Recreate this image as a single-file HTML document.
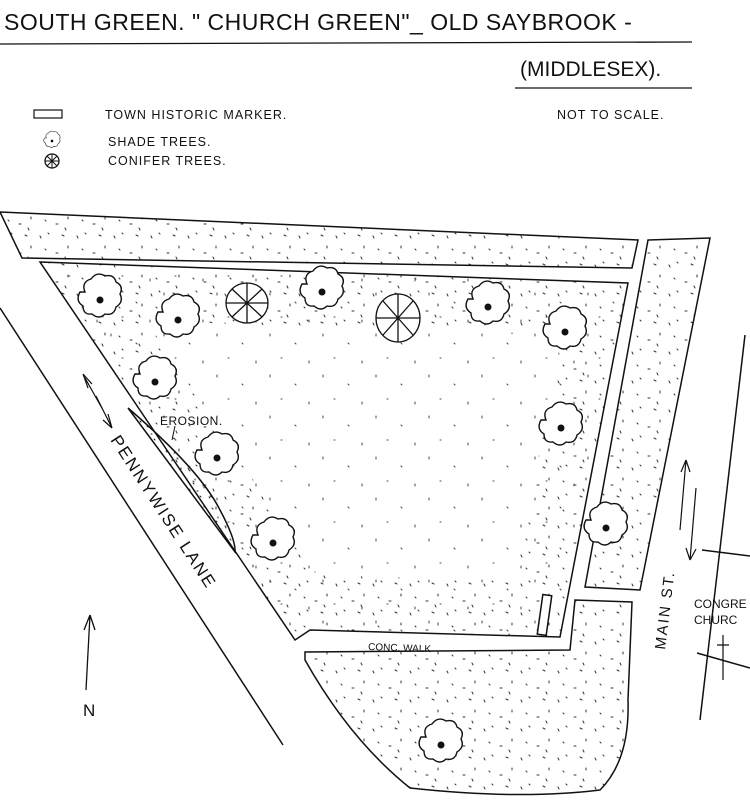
<!DOCTYPE html>
<html><head><meta charset="utf-8"><style>
html,body{margin:0;padding:0;background:#fff;}
svg{display:block}
text{font-family:"Liberation Sans",sans-serif;fill:#111}
</style></head><body>
<svg width="750" height="800" viewBox="0 0 750 800" xmlns="http://www.w3.org/2000/svg">
<defs>
<pattern id="st" width="37" height="29" patternUnits="userSpaceOnUse">
<g stroke="#333" stroke-width="1" stroke-linecap="round">
<path d="M3 4l1 2M25 3l2 1M31 14l0 2M8 17l1 1M19 21l2 0M28 25l1 2M11 1l1 1"/>
</g></pattern>
<pattern id="sp" width="53" height="41" patternUnits="userSpaceOnUse">
<g stroke="#444" stroke-width="1" stroke-linecap="round">
<path d="M5 6l0 2M30 15l1 1M44 33l0 2M16 30l1 0"/>
</g></pattern>
<pattern id="st2" width="23" height="19" patternUnits="userSpaceOnUse">
<g stroke="#222" stroke-width="1" stroke-linecap="round">
<path d="M2 3l1 1M9 8l1 1M16 2l1 1M20 12l0 1M5 14l1 1M13 16l1 0M11 4l0 1"/>
</g></pattern>
<clipPath id="gc"><path d="M40 262L628 283L560 637L310 630L295 640Z"/></clipPath>
<g id="tr"><path d="M-15 -8q-4-10 6-13q6-8 14-3q9-2 11 6q8 4 4 12q4 8-4 13q-2 9-11 7q-6 6-13 0q-9 1-9-8q-8-5-3-14z" fill="#fff" stroke="#111" stroke-width="1.4"/><circle r="3.5" fill="#111"/></g>
</defs>
<!-- title -->
<text x="4" y="30" font-size="23" letter-spacing="0.5">SOUTH GREEN. " CHURCH GREEN"_ OLD SAYBROOK -</text>
<path d="M0 44L692 42" stroke="#111" stroke-width="1.3"/>
<text x="520" y="76" font-size="21">(MIDDLESEX).</text>
<path d="M515 88L692 88" stroke="#111" stroke-width="1.3"/>
<rect x="34" y="110" width="28" height="8" fill="none" stroke="#111" stroke-width="1.2"/>
<text x="105" y="119" font-size="12.5" letter-spacing="1">TOWN HISTORIC MARKER.</text>
<text x="557" y="119" font-size="12.5" letter-spacing="1">NOT TO SCALE.</text>
<g transform="translate(52,141) scale(0.38)"><use href="#tr"/></g>
<text x="108" y="146" font-size="12.5" letter-spacing="1">SHADE TREES.</text>
<g transform="translate(52,161)"><circle r="7" fill="#fff" stroke="#111" stroke-width="1.3"/><path d="M-7 0H7M0-7V7M-5-5L5 5M-5 5L5-5" stroke="#111"/></g>
<text x="108" y="165" font-size="12.5" letter-spacing="1">CONIFER TREES.</text>

<g stroke="#111" stroke-width="1.5" fill="none">
<path d="M0 212L638 240L632 268L22 258Z" fill="url(#st)"/>
<!-- main green: sparse center, denser edges -->
<path d="M40 262L628 283L560 637L310 630L295 640Z" fill="url(#sp)" stroke="none"/>
<path d="M40 262L628 283L560 637L310 630L295 640Z" stroke="url(#st)" stroke-width="110" clip-path="url(#gc)"/>
<path d="M40 262L628 283L560 637L310 630L295 640Z"/>
<path d="M128 408Q200 470 220 510Q236 540 235 552Q200 505 128 408Z" fill="url(#st2)"/>
<path d="M0 308L283 745"/>
<path d="M648 240L710 238L640 590L585 587Z" fill="url(#st)"/>
<path d="M305 660Q350 740 410 788Q520 800 600 790Q630 760 628 700L632 602L575 600L570 650L305 652Z" fill="url(#st)"/>
<path d="M745 335L700 720"/>
<path d="M702 550L750 556M697 653L750 668"/>
<path d="M723 635V680M717 645H729" stroke-width="1.2"/>
<rect x="540" y="595" width="9" height="40" transform="rotate(8 545 615)" fill="#fff"/>
<path d="M85 378L103 410M83 374L88 388M83 374L92 384M96 396L112 428M112 428L108 414M112 428L103 420" stroke-width="1.2"/>
<path d="M686 460L680 530M686 460L681 472M686 460L690 472M696 488L690 560M690 560L686 548M690 560L696 549" stroke-width="1.2"/>
<path d="M90 615L86 690M90 615L84 630M90 615L95 630" stroke-width="1.3"/>
<path d="M175 426L172 440" stroke-width="1"/>
</g>
<text x="160" y="425" font-size="12" letter-spacing="0.5">EROSION.</text>
<text x="83" y="716" font-size="17">N</text>
<text x="368" y="650" font-size="10" transform="rotate(2 368 650)">CONC. WALK</text>
<text font-size="17" letter-spacing="2" transform="translate(110,440) rotate(57)">PENNYWISE  LANE</text>
<text font-size="15" letter-spacing="2" transform="translate(665,650) rotate(-83)">MAIN ST.</text>
<text x="694" y="608" font-size="12">CONGRE</text>
<text x="694" y="624" font-size="12">CHURC</text>

<use href="#tr" x="100" y="300"/><use href="#tr" x="178" y="320"/><use href="#tr" x="322" y="292"/>
<use href="#tr" x="488" y="307"/><use href="#tr" x="565" y="332"/><use href="#tr" x="155" y="382"/>
<use href="#tr" x="217" y="458"/><use href="#tr" x="561" y="428"/><use href="#tr" x="273" y="543"/>
<use href="#tr" x="606" y="528"/><use href="#tr" x="441" y="745"/>
<g stroke="#111" stroke-width="1.3" fill="#fff">
<g transform="translate(247,303)"><ellipse rx="21" ry="20"/><path d="M-21 0H21M0-20V20M-15-14L15 14M-15 14L15-14" fill="none"/></g>
<g transform="translate(398,318)"><ellipse rx="22" ry="24"/><path d="M-22 0H22M0-24V24M-15-17L15 17M-15 17L15-17" fill="none"/></g>
</g>
</svg>
</body></html>
